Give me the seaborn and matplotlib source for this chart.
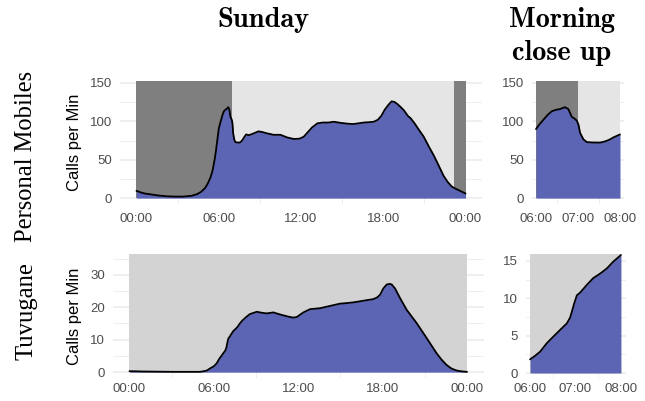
import matplotlib
matplotlib.use("Agg")
import matplotlib.pyplot as plt
import numpy as np
import pandas as pd
import seaborn as sns
from matplotlib.transforms import blended_transform_factory

# Sunday call volume, hour of day vs calls per minute
pm_hours = [0.0, 0.3, 0.6, 1.0, 1.6, 2.2, 2.8, 3.4, 4.0, 4.4, 4.7, 5.0, 5.2, 5.4,
            5.55, 5.7, 5.8, 5.9, 6.0, 6.08, 6.175, 6.27, 6.37, 6.47, 6.57, 6.69,
            6.77, 6.85, 6.92, 6.97, 7.01, 7.05, 7.13, 7.21, 7.35, 7.52, 7.6, 7.68,
            7.76, 7.84, 7.92, 8.0, 8.2, 8.5, 8.9, 9.2, 9.5, 10.0, 10.5, 11.0, 11.5,
            11.9, 12.2, 12.5, 12.8, 13.2, 13.6, 14.0, 14.4, 14.9, 15.4, 15.8, 16.2,
            16.6, 17.0, 17.3, 17.6, 17.85, 18.1, 18.35, 18.6, 18.8, 19.0, 19.25,
            19.5, 19.8, 20.0, 20.3, 20.6, 20.95, 21.3, 21.7, 22.0, 22.4, 22.7, 23.0,
            23.3, 23.6, 24.0]
pm_calls = [9.5, 7.5, 6.0, 5.0, 3.4, 2.4, 2.0, 2.0, 3.0, 5.0, 8.0, 13, 19, 27,
            36, 50, 62, 76, 90, 96, 102, 108, 113, 115, 116, 118.5,
            116, 106, 103.5, 101, 96, 85, 76.5, 73, 72.5, 72.4, 73.2, 74.6,
            76.5, 79, 81, 83, 82, 84, 87, 86, 84.5, 82.5, 82.5, 79, 77,
            77.5, 80, 86, 92, 97.5, 98.5, 98.5, 99.5, 98, 97, 96.5, 97.5,
            98.5, 99, 99.5, 102, 107, 115, 121, 126, 125.5, 123, 119,
            114.5, 107, 104, 97, 89, 80, 68, 55, 44, 29, 21, 15,
            12, 9.5, 6.0]

tv_hours = [0.0, 1.0, 2.0, 3.0, 4.0, 5.0, 5.3, 5.5, 5.75, 6.0, 6.11, 6.22, 6.37,
            6.51, 6.66, 6.81, 6.88, 6.92, 6.97, 7.03, 7.10, 7.25, 7.39, 7.54, 7.69,
            7.83, 8.0, 8.3, 8.57, 9.05, 9.4, 9.76, 10.23, 10.6, 10.94, 11.3, 11.65,
            11.9, 12.36, 12.84, 13.55, 14.26, 14.97, 15.5, 15.92, 16.63, 17.34,
            17.6, 17.81, 18.05, 18.29, 18.5, 18.65, 18.88, 19.24, 19.71, 20.42,
            21.13, 21.84, 22.2, 22.55, 22.9, 23.26, 23.6, 24.0]
tv_calls = [0.3, 0.2, 0.15, 0.1, 0.1, 0.1, 0.3, 0.5, 1.2, 1.83, 2.3, 2.85, 4.0,
            4.86, 5.76, 6.65, 7.4, 8.2, 9.3, 10.4, 10.75, 11.8, 12.7, 13.3, 14.0,
            14.9, 15.8, 17.0, 17.9, 18.6, 18.3, 18.1, 18.4, 17.9, 17.5, 17.1, 16.8,
            17.0, 18.4, 19.4, 19.7, 20.4, 21.1, 21.3, 21.5, 22.0, 22.5,
            23.0, 23.8, 25.8, 27.0, 27.2, 27.0, 25.8, 22.8, 19.2, 15.1,
            10.5, 5.8, 3.8, 2.2, 1.1, 0.5, 0.25, 0.1]

# Shaded windows: night (dark) and day (light) for Personal Mobiles
pm_night = [(0.0, 7.0), (23.15, 24.0)]
pm_day = [(7.0, 23.15)]
tv_window = [(0.0, 24.0)]

row_names = ["Personal Mobiles", "Tuvugane"]
col_titles = ["Sunday", "Morning\nclose up"]
full_ticks = [0, 6, 12, 18, 24]
close_ticks = [6, 7, 8]
pm_yticks = [0, 50, 100, 150]
tv_yticks = [0, 10, 20, 30]
tv_close_yticks = [0, 5, 10, 15]

W, H = 645, 401
sns.set_theme(style="white")
plt.rcParams["font.family"] = ["Liberation Sans", "DejaVu Sans"]

fig = plt.figure(figsize=(W / 100, H / 100), dpi=100)
fig.patch.set_facecolor("white")

FILL = "#5c65b4"
DARK = "#7f7f7f"
LIGHT = "#e5e5e5"
PALE = "#d3d3d3"
GRID = "#ebebeb"
TICK = "#4d4d4d"


def add_px_axes(left, top, right, bottom):
    return fig.add_axes([left / W, 1 - bottom / H, (right - left) / W, (bottom - top) / H])


def panel(ax, hours, calls, spans, xlim, ylim, xticks, yticks, vgrid, ygrid_minor,
          ylabel, xpad):
    df = pd.DataFrame({"hour": hours, "calls": calls})
    df = df[(df.hour >= xlim[0]) & (df.hour <= xlim[1])]
    lo, hi = df.hour.min(), df.hour.max()
    ax.set_xlim(lo - 0.05 * (hi - lo), hi + 0.05 * (hi - lo))
    ax.set_ylim(*ylim)
    for y in yticks:
        ax.axhline(y, color=GRID, lw=1.1, zorder=0)
    for y in ygrid_minor:
        ax.axhline(y, color=GRID, lw=0.6, zorder=0)
    for x in vgrid:
        ax.axvline(x, color=GRID, lw=0.6, zorder=0)
    for (a, b, c) in spans:
        a2, b2 = max(a, lo), min(b, hi)
        if b2 > a2:
            ax.fill_between([a2, b2], 0, ylim[1], color=c, lw=0, zorder=1)
    ax.fill_between(df.hour, 0, df.calls, color=FILL, lw=0, zorder=2)
    sns.lineplot(data=df, x="hour", y="calls", ax=ax, color="black", lw=1.3,
                 zorder=3, estimator=None, sort=False)
    ax.set_xticks(xticks)
    ax.set_xticklabels(["%02d:00" % (h % 24) for h in xticks])
    ax.set_yticks(yticks)
    ax.set_yticklabels([str(v) for v in yticks])
    ax.tick_params(axis="both", length=0, labelsize=9.5, labelcolor=TICK)
    ax.tick_params(axis="x", pad=xpad)
    ax.tick_params(axis="y", pad=5.5)
    ax.set_xlabel("")
    for s in ax.spines.values():
        s.set_visible(False)
    ax.grid(False)
    ax.set_facecolor("none")
    if ylabel:
        ax.set_ylabel("Calls per Min", fontsize=12, color="black")
        ax.yaxis.label.set_va("center")
        ax.yaxis.set_label_coords(74 / W, 0.5,
                                  transform=blended_transform_factory(fig.transFigure, ax.transAxes))
    else:
        ax.set_ylabel("")


pm_spans = [(a, b, DARK) for a, b in pm_night] + [(a, b, LIGHT) for a, b in pm_day]
tv_spans = [(a, b, PALE) for a, b in tv_window]

ax_tl = add_px_axes(120, 81, 482, 203.5)
panel(ax_tl, pm_hours, pm_calls, pm_spans, (0, 24), (-7, 152.6), full_ticks, pm_yticks,
      [3, 9, 15, 21], [25, 75, 125], True, 6.5)

ax_tr = add_px_axes(531.8, 81, 624.2, 203.5)
panel(ax_tr, pm_hours, pm_calls, pm_spans, (6, 8), (-7, 152.6), close_ticks, pm_yticks,
      [6.5, 7.5], [25, 75, 125], False, 6.5)

ax_bl = add_px_axes(112.6, 254, 483.9, 378)
panel(ax_bl, tv_hours, tv_calls, tv_spans, (0, 24), (-1.8, 36.4), full_ticks, tv_yticks,
      [3, 9, 15, 21], [5, 15, 25, 35], True, 3.5)

ax_br = add_px_axes(525.5, 254, 625.5, 379)
panel(ax_br, tv_hours, tv_calls, tv_spans, (6, 8), (-0.8, 15.93), close_ticks, tv_close_yticks,
      [6.5, 7.5], [2.5, 7.5, 12.5], False, 3.0)

# Column titles
fig.text(263 / W, 1 - 26.7 / H, col_titles[0], ha="center", va="baseline",
         fontsize=20.5, fontfamily="cmb10", color="black")
fig.text(562 / W, 1 - 6.6 / H, col_titles[1], ha="center", va="top",
         fontsize=20.3, fontfamily="cmb10", color="black", linespacing=1.36)

# Row labels
fig.text(26 / W, 1 - 156 / H, row_names[0], rotation=90, ha="center", va="center",
         fontsize=17.7, fontfamily="Liberation Serif", color="black")
fig.text(26 / W, 1 - 311 / H, row_names[1], rotation=90, ha="center", va="center",
         fontsize=17.7, fontfamily="Liberation Serif", color="black")

fig.savefig("out.png", dpi=100, facecolor="white")
